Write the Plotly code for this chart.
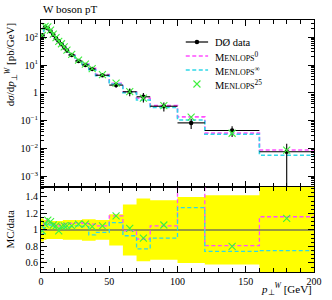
import plotly.graph_objects as go

# ---- data ----
edges = [0, 2, 4, 6, 8, 10, 12, 14, 16, 18, 20, 25, 30, 35, 40, 50, 60, 70, 80, 100, 120, 160, 200]
data = [117, 230, 210, 163, 122, 92, 72, 56, 43, 33, 23, 14, 10, 7.2, 4.3, 1.9, 1.09, 0.72, 0.33, 0.083, 0.044, 0.0076]
rel_err = [0.14, 0.12, 0.11, 0.11, 0.11, 0.11, 0.11, 0.11, 0.12, 0.12, 0.12, 0.12, 0.13, 0.13, 0.12,
           0.19, 0.31, 0.38, 0.36, 0.40, 0.42, 0.95]
ratio_0 = [1.00, 1.08, 1.12, 1.09, 1.07, 1.06, 1.05, 1.06, 1.07, 1.08, 1.08, 1.09, 1.08, 1.07, 1.05,
           1.17, 0.99, 0.89, 1.05, 1.65, 0.81, 1.16]
ratio_inf = [0.95, 1.03, 1.08, 1.06, 1.04, 1.03, 1.02, 1.03, 1.03, 1.04, 1.04, 1.05, 1.04, 0.94, 0.97,
             1.09, 0.93, 0.77, 0.90, 1.27, 0.74, 0.75]
ratio_25 = [0.99, 1.07, 1.12, 1.10, 1.06, 1.05, 0.99, 1.04, 1.05, 1.05, 1.05, 1.07, 1.07, 1.04, 1.05,
            1.17, 1.02, 0.90, 1.06, 1.60, 0.80, 1.14]

centers = [(a + b) / 2 for a, b in zip(edges[:-1], edges[1:])]
halfw = [(b - a) / 2 for a, b in zip(edges[:-1], edges[1:])]
mc_0 = [d * r for d, r in zip(data, ratio_0)]
mc_inf = [d * r for d, r in zip(data, ratio_inf)]
mc_25 = [d * r for d, r in zip(data, ratio_25)]
abs_err = [d * e for d, e in zip(data, rel_err)]


def step(v):
    return list(v) + [v[-1]]


MAG = "#ff4dff"
CYA = "#2fd8e8"
GRN = "#3ef03e"
FONT = "Liberation Serif"
DASH = "4px,2.5px"

fig = go.Figure()

# ---- ratio panel ----
band_hi = [1 + e for e in rel_err]
band_lo = [1 - e for e in rel_err]
fig.add_trace(go.Scatter(x=edges, y=step(band_hi), mode="lines", line=dict(shape="hv", width=0, color="#ffff00"),
                         xaxis="x2", yaxis="y2", showlegend=False))
fig.add_trace(go.Scatter(x=edges, y=step(band_lo), mode="lines", line=dict(shape="hv", width=0, color="#ffff00"),
                         fill="tonexty", fillcolor="#ffff00", xaxis="x2", yaxis="y2", showlegend=False))
fig.add_trace(go.Scatter(x=[edges[0], edges[-1]], y=[1, 1], mode="lines", line=dict(color="#777755", width=1.6),
                         xaxis="x2", yaxis="y2", showlegend=False))
fig.add_trace(go.Scatter(x=edges, y=step(ratio_0), mode="lines", line=dict(shape="hv", color=MAG, width=1.3, dash=DASH),
                         xaxis="x2", yaxis="y2", showlegend=False))
fig.add_trace(go.Scatter(x=edges, y=step(ratio_inf), mode="lines", line=dict(shape="hv", color=CYA, width=1.3, dash=DASH),
                         xaxis="x2", yaxis="y2", showlegend=False))
fig.add_trace(go.Scatter(x=centers, y=ratio_25, mode="markers",
                         marker=dict(symbol="x-thin-open", size=7, color=GRN, line=dict(color=GRN, width=1.1)),
                         xaxis="x2", yaxis="y2", showlegend=False))

# ---- top panel ----
fig.add_trace(go.Scatter(x=edges, y=step(mc_0), mode="lines", line=dict(shape="hv", color=MAG, width=1.6, dash=DASH),
                         xaxis="x", yaxis="y", showlegend=False))
fig.add_trace(go.Scatter(x=edges, y=step(mc_inf), mode="lines", line=dict(shape="hv", color=CYA, width=1.6, dash=DASH),
                         xaxis="x", yaxis="y", showlegend=False))
fig.add_trace(go.Scatter(x=centers, y=data, mode="markers",
                         marker=dict(color="black", size=4.5),
                         error_x=dict(type="data", array=halfw, color="black", thickness=1.1, width=0),
                         error_y=dict(type="data", array=abs_err, color="black", thickness=1.1, width=0),
                         xaxis="x", yaxis="y", showlegend=False))
fig.add_trace(go.Scatter(x=centers, y=mc_25, mode="markers",
                         marker=dict(symbol="x-thin-open", size=7, color=GRN, line=dict(color=GRN, width=1.1)),
                         xaxis="x", yaxis="y", showlegend=False))

# ---- legend (manual, on a pixel overlay axis) ----
leg_y = [42, 56, 70, 84]
leg_x0, leg_x1, leg_xm, leg_tx = 190, 213, 201.5, 218
fig.add_trace(go.Scatter(x=[leg_x0, leg_x1], y=[leg_y[0], leg_y[0]], mode="lines", line=dict(color="black", width=1.2),
                         xaxis="x3", yaxis="y3", showlegend=False))
fig.add_trace(go.Scatter(x=[leg_xm], y=[leg_y[0]], mode="markers", marker=dict(color="black", size=4.5),
                         xaxis="x3", yaxis="y3", showlegend=False))
fig.add_trace(go.Scatter(x=[leg_x0, leg_x1], y=[leg_y[1], leg_y[1]], mode="lines",
                         line=dict(color=MAG, width=1.6, dash=DASH), xaxis="x3", yaxis="y3", showlegend=False))
fig.add_trace(go.Scatter(x=[leg_x0, leg_x1], y=[leg_y[2], leg_y[2]], mode="lines",
                         line=dict(color=CYA, width=1.6, dash=DASH), xaxis="x3", yaxis="y3", showlegend=False))
fig.add_trace(go.Scatter(x=[leg_xm], y=[leg_y[3]], mode="markers",
                         marker=dict(symbol="x-thin-open", size=7, color=GRN, line=dict(color=GRN, width=1.1)),
                         xaxis="x3", yaxis="y3", showlegend=False))

sc = "<span style='font-size:8px'>ENLOPS</span>"
leg_labels = ["DØ data", "M" + sc + "<sup>0</sup>", "M" + sc + "<sup>∞</sup>", "M" + sc + "<sup>25</sup>"]
annotations = []
for yy, lab in zip(leg_y, leg_labels):
    annotations.append(dict(x=leg_tx, y=yy, xref="x3", yref="y3", text=lab, showarrow=False,
                            xanchor="left", yanchor="middle", font=dict(family=FONT, size=10.5, color="black")))

# titles
annotations.append(dict(x=0, y=1, xref="paper", yref="paper", text="W boson pT", showarrow=False,
                        xanchor="left", yanchor="bottom", yshift=3, font=dict(family=FONT, size=11, color="black")))
annotations.append(dict(x=-0.112, y=0.995, xref="paper", yref="paper",
                        text="d<i>σ</i>/d<i>p</i><sub>⊥</sub><sup><i>W</i></sup> [pb/GeV]",
                        textangle=-90, showarrow=False, xanchor="center", yanchor="top",
                        font=dict(family=FONT, size=11, color="black")))
annotations.append(dict(x=-0.112, y=0.17, xref="paper", yref="paper", text="MC/data", textangle=-90, showarrow=False,
                        xanchor="center", yanchor="middle", font=dict(family=FONT, size=11, color="black")))
annotations.append(dict(x=1, y=-0.107, xref="paper", yref="paper",
                        text="<i>p</i><sub>⊥</sub><sup><i>W</i></sup> [GeV]", showarrow=False,
                        xanchor="right", yanchor="bottom", font=dict(family=FONT, size=11, color="black")))

# ---- axes ----
log_major = [-3, -2, -1, 0, 1, 2]
log_major_vals = [10.0 ** p for p in log_major]
log_major_text = ["10<sup>−3</sup>", "10<sup>−2</sup>", "10<sup>−1</sup>", "1", "10<sup>1</sup>", "10<sup>2</sup>"]
log_minor_vals = [m * 10.0 ** p for p in range(-4, 3) for m in range(2, 10)]

tickfont = dict(family=FONT, size=10, color="black")
common_x = dict(range=[0, 200], showline=True, linecolor="black", linewidth=1, mirror="allticks",
                ticks="inside", ticklen=6, tickwidth=0.8, tickcolor="black", dtick=50, tick0=0,
                minor=dict(ticks="inside", ticklen=4, dtick=10, tickcolor="black", tickwidth=0.8),
                showgrid=False, zeroline=False, tickfont=tickfont)

fig.update_layout(
    width=332, height=300,
    margin=dict(l=41, r=10, t=20, b=28),
    paper_bgcolor="white", plot_bgcolor="rgba(0,0,0,0)",
    font=dict(family=FONT, color="black"),
    showlegend=False,
    xaxis=dict(domain=[0, 1], anchor="y", showticklabels=False, **common_x),
    yaxis=dict(domain=[0.337, 1], anchor="x", type="log", range=[-3.39, 2.62],
               tickmode="array", tickvals=log_major_vals, ticktext=log_major_text,
               showline=True, linecolor="black", linewidth=1, mirror="allticks",
               ticks="inside", ticklen=6, tickwidth=0.8, tickcolor="black",
               minor=dict(tickmode="array", tickvals=log_minor_vals, ticks="inside", ticklen=3,
                          tickcolor="black", tickwidth=0.8),
               showgrid=False, zeroline=False, tickfont=tickfont),
    xaxis2=dict(domain=[0, 1], anchor="y2", showticklabels=True, **common_x),
    yaxis2=dict(domain=[0, 0.337], anchor="x2", range=[0.49, 1.52], dtick=0.2, tick0=0,
                showline=True, linecolor="black", linewidth=1, mirror="allticks",
                ticks="inside", ticklen=6, tickwidth=0.8, tickcolor="black",
                minor=dict(ticks="inside", ticklen=3, dtick=0.05, tickcolor="black", tickwidth=0.8),
                showgrid=False, zeroline=False, tickfont=tickfont),
    xaxis3=dict(domain=[0, 1], anchor="y3", range=[41, 322], visible=False, fixedrange=True),
    yaxis3=dict(domain=[0, 1], anchor="x3", range=[272, 20], visible=False, fixedrange=True),
    annotations=annotations,
)

fig.write_html("out.html", config={"displayModeBar": False},
               post_script="document.body.style.margin='0px';")
